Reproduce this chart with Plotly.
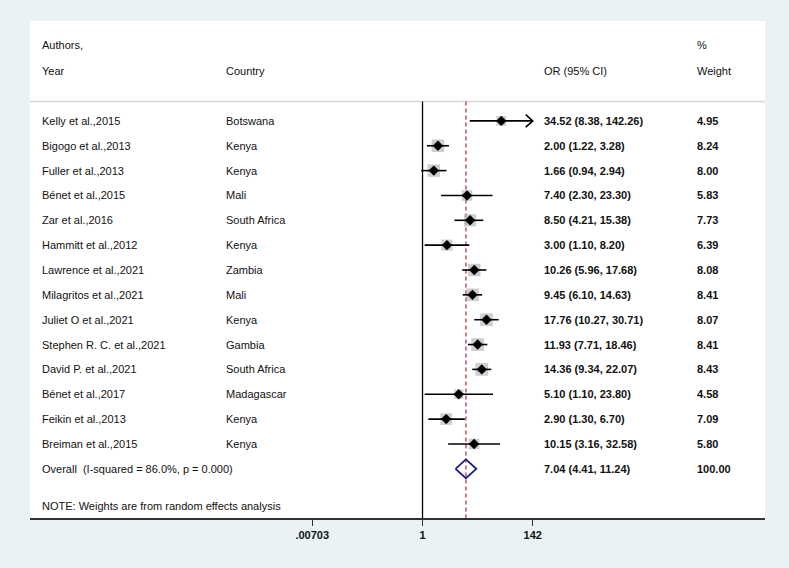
import math
import plotly.graph_objects as go

# ---------------- data ----------------
authors = ["Kelly et al.,2015", "Bigogo et al.,2013", "Fuller et al.,2013", "Bénet et al.,2015",
           "Zar et al.,2016", "Hammitt et al.,2012", "Lawrence et al.,2021", "Milagritos et al.,2021",
           "Juliet O et al.,2021", "Stephen R. C. et al.,2021", "David P. et al.,2021",
           "Bénet et al.,2017", "Feikin et al.,2013", "Breiman et al.,2015"]
countries = ["Botswana", "Kenya", "Kenya", "Mali", "South Africa", "Kenya", "Zambia", "Mali",
             "Kenya", "Gambia", "South Africa", "Madagascar", "Kenya", "Kenya"]
or_vals = [34.52, 2.00, 1.66, 7.40, 8.50, 3.00, 10.26, 9.45, 17.76, 11.93, 14.36, 5.10, 2.90, 10.15]
ci_low = [8.38, 1.22, 0.94, 2.30, 4.21, 1.10, 5.96, 6.10, 10.27, 7.71, 9.34, 1.10, 1.30, 3.16]
ci_high = [142.26, 3.28, 2.94, 23.30, 15.38, 8.20, 17.68, 14.63, 30.71, 18.46, 22.07, 23.80, 6.70, 32.58]
weights = [4.95, 8.24, 8.00, 5.83, 7.73, 6.39, 8.08, 8.41, 8.07, 8.41, 8.43, 4.58, 7.09, 5.80]

overall_label = "Overall\u00a0 (I-squared = 86.0%, p = 0.000)"
overall_or, overall_low, overall_high, overall_weight = 7.04, 4.41, 11.24, 100.00
note_text = "NOTE: Weights are from random effects analysis"

tick_vals = [0.00703, 1, 142]
tick_text = [".00703", "1", "142"]

# ---------------- layout constants ----------------
W, H = 789, 568
ML, MR, MT, MB = 30, 24, 21, 50
PW = W - ML - MR
BG = "rgb(234,242,243)"
TXT = "#111111"
FONT = "Liberation Sans, Arial, sans-serif"

def px2paper(px):
    return (px - ML) / PW

rows = list(range(len(authors)))
overall_row = len(authors)
note_row = overall_row + 1.5
header1_row = -3.05
header2_row = -2.0
line_row = -0.78
y_range = [15.98, -4.02]
x_range = [-7.665, 6.688]

clip_max = max(tick_vals)

fig = go.Figure()

# weight boxes
fig.add_trace(go.Scatter(
    x=or_vals, y=rows, mode="markers",
    marker=dict(symbol="square", color="rgb(185,185,185)",
                size=[4.4 * math.sqrt(w) for w in weights], line=dict(width=0)),
    hoverinfo="skip", showlegend=False))

# CI lines
cx, cy = [], []
for lo, hi, r in zip(ci_low, ci_high, rows):
    cx += [lo, min(hi, clip_max), None]
    cy += [r, r, None]
fig.add_trace(go.Scatter(x=cx, y=cy, mode="lines", line=dict(color="black", width=1.6),
                         hoverinfo="skip", showlegend=False))

# arrows for clipped CIs
ax, ay = [], []
for hi, r in zip(ci_high, rows):
    if hi > clip_max:
        f = 10 ** (7 / 51.21)
        ax += [clip_max / f, clip_max, clip_max / f, None]
        ay += [r - 0.25, r, r + 0.25, None]
if ax:
    fig.add_trace(go.Scatter(x=ax, y=ay, mode="lines", line=dict(color="black", width=1.6),
                             hoverinfo="skip", showlegend=False))

# point estimates
fig.add_trace(go.Scatter(
    x=or_vals, y=rows, mode="markers",
    marker=dict(symbol="diamond", color="black", size=8),
    hoverinfo="skip", showlegend=False))

# overall diamond
fig.add_trace(go.Scatter(
    x=[overall_low, overall_or, overall_high, overall_or, overall_low],
    y=[overall_row, overall_row - 0.38, overall_row, overall_row + 0.38, overall_row],
    mode="lines", line=dict(color="rgb(30,30,130)", width=1.8),
    hoverinfo="skip", showlegend=False))

# shapes
fig.add_shape(type="line", xref="paper", yref="y", x0=0, x1=1, y0=line_row, y1=line_row,
              line=dict(color="rgb(215,215,215)", width=1.5), layer="below")
fig.add_shape(type="line", xref="x", yref="y", x0=1, x1=1, y0=line_row, y1=y_range[0],
              line=dict(color="black", width=1.3), layer="below")
fig.add_shape(type="line", xref="x", yref="y", x0=overall_or, x1=overall_or, y0=line_row, y1=y_range[0],
              line=dict(color="rgb(175,60,60)", width=1.3, dash="4px,3px"), layer="below")

# text columns
X_AUTH, X_CTRY, X_OR, X_WT = px2paper(40), px2paper(224), px2paper(542), px2paper(695)

def txt(x, y, s, bold=False):
    fig.add_annotation(x=x, y=y, xref="paper", yref="y", text=("<b>%s</b>" % s) if bold else s,
                       showarrow=False, xanchor="left", yanchor="middle",
                       font=dict(size=11, color=TXT, family=FONT))

txt(X_AUTH, header1_row, "Authors,")
txt(X_WT, header1_row, "%")
txt(X_AUTH, header2_row, "Year")
txt(X_CTRY, header2_row, "Country")
txt(X_OR, header2_row, "OR (95% CI)")
txt(X_WT, header2_row, "Weight")

for a, c, o, lo, hi, w, r in zip(authors, countries, or_vals, ci_low, ci_high, weights, rows):
    txt(X_AUTH, r, a)
    txt(X_CTRY, r, c)
    txt(X_OR, r, "%.2f (%.2f, %.2f)" % (o, lo, hi), bold=True)
    txt(X_WT, r, "%.2f" % w, bold=True)

txt(X_AUTH, overall_row, overall_label)
txt(X_OR, overall_row, "%.2f (%.2f, %.2f)" % (overall_or, overall_low, overall_high), bold=True)
txt(X_WT, overall_row, "%.2f" % overall_weight, bold=True)
txt(X_AUTH, note_row, note_text)

fig.update_layout(
    width=W, height=H, margin=dict(l=ML, r=MR, t=MT, b=MB),
    paper_bgcolor=BG, plot_bgcolor="white",
    font=dict(family=FONT, size=11, color=TXT),
    xaxis=dict(type="log", range=x_range, showgrid=False, zeroline=False,
               showline=True, linecolor="rgb(50,50,50)", linewidth=1.6,
               ticks="outside", ticklen=6, tickwidth=1.4, tickcolor="rgb(50,50,50)",
               tickvals=tick_vals, ticktext=["<b>%s</b>" % t for t in tick_text],
               tickfont=dict(size=11, color=TXT, family=FONT), fixedrange=True),
    yaxis=dict(range=y_range, visible=False, showgrid=False, zeroline=False, fixedrange=True),
    showlegend=False,
)

page_js = ("document.documentElement.style.margin='0';document.body.style.margin='0';"
           "document.body.style.padding='0';document.body.style.overflow='hidden';"
           "document.body.style.background='%s';" % BG)

fig.write_html("out.html", post_script=page_js, config={"displayModeBar": False})
